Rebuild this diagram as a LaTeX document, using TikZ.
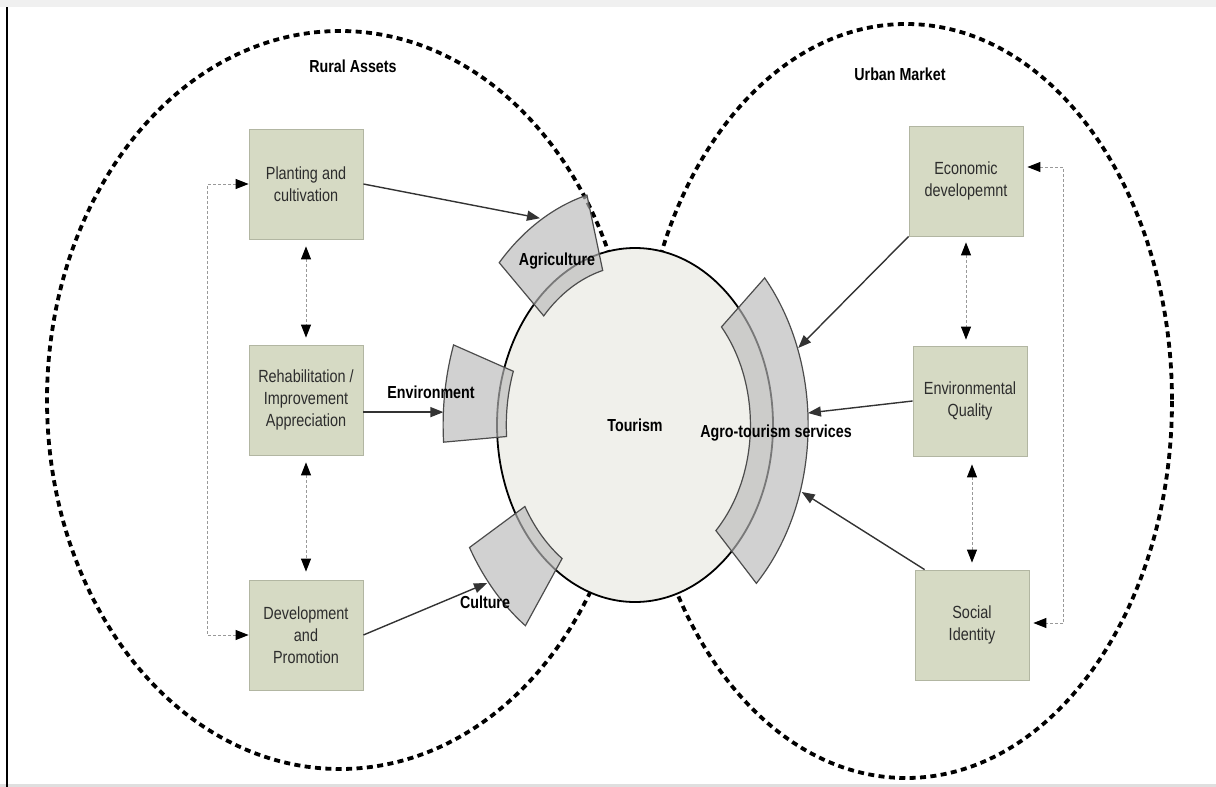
\documentclass[tikz,border=0pt]{standalone}
\usepackage{fontspec}
\setmainfont{Liberation Sans}[FakeStretch=0.82]
\usetikzlibrary{shapes.geometric,arrows.meta}

\definecolor{boxfill}{RGB}{214,218,196}
\definecolor{boxline}{RGB}{178,182,162}
\definecolor{boxtext}{RGB}{45,45,45}
\definecolor{tourfill}{RGB}{240,240,235}
\definecolor{sectorfill}{RGB}{185,185,185}

\tikzset{
  zone/.style={line width=1.9pt, dash pattern=on 3pt off 2.2pt},
  box/.style={draw=boxline, fill=boxfill, text=boxtext, minimum width=57pt, minimum height=55pt,
    align=center, inner sep=2pt, font=\fontsize{8.8}{11}\selectfont},
  tag/.style={font=\fontsize{8.7}{11}\selectfont\bfseries, inner sep=0pt, anchor=base},
  sector/.style={draw=black!70, line width=0.6pt, fill=sectorfill, fill opacity=0.65},
  feed/.style={draw=black!80, line width=0.7pt, -{Triangle[length=6.5pt,width=5pt]}},
  link/.style={draw=black!40, line width=0.5pt, dash pattern=on 1.5pt off 1pt,
    {Triangle[length=6.5pt,width=5pt,black]}-{Triangle[length=6.5pt,width=5pt,black]}},
}

\begin{document}
\begin{tikzpicture}[x=0.5pt,y=-0.5pt]
\useasboundingbox (0,0) rectangle (1216,787);
\fill[gray!12] (0,0) rectangle (1216,7);
\fill[gray!25] (0,784) rectangle (1216,787);
\draw[line width=1pt] (7,7) -- (7,787);

\draw[zone] (340,400) ellipse [x radius=293, y radius=369];
\draw[zone] (906,401) ellipse [x radius=266, y radius=377];

\node[draw, line width=0.9pt, fill=tourfill, ellipse, minimum width=138pt, minimum height=177pt,
  inner sep=0pt, font=\fontsize{8.7}{11}\selectfont\bfseries] (tourism) at (635,425) {Tourism};

\begin{scope}[shift={(635,425)}, xscale=0.78]
\draw[sector] (-137:160) arc[start angle=-137, end angle=-105, radius=160]
  -- (-105:238) arc[start angle=-105, end angle=-137, radius=238] -- cycle;
\draw[sector] (-184:165) arc[start angle=-184, end angle=-161, radius=165]
  -- (-161:246) arc[start angle=-161, end angle=-184, radius=246] -- cycle;
\draw[sector] (125:163) arc[start angle=125, end angle=150, radius=163]
  -- (150:245) arc[start angle=150, end angle=125, radius=245] -- cycle;
\draw[sector] (-41.5:148) arc[start angle=-41.5, end angle=45.5, radius=148]
  -- (45.5:222) arc[start angle=45.5, end angle=-41.5, radius=222] -- cycle;
\coordinate (agri) at (-120.5:240);
\coordinate (env) at (-177:246);
\coordinate (cult) at (140.2:247);
\coordinate (agro1) at (-20.2:223);
\coordinate (agro2) at (-3.1:222);
\coordinate (agro3) at (17.4:224);
\end{scope}

\node[tag] (rural) at (353,72) {Rural Assets};
\node[tag] (urban) at (900,80) {Urban Market};
\node[tag] (agriculture) at (557,265) {Agriculture};
\node[tag] (environment) at (431,398) {Environment};
\node[tag] (culture) at (485,608) {Culture};
\node[tag] (agrotourism) at (776,437) {Agro-tourism services};

\node[box] (plant) at (306,184) {Planting and\\cultivation};
\node[box] (rehab) at (306,400) {Rehabilitation /\\Improvement\\Appreciation};
\node[box] (devel) at (306,635) {Development\\and\\Promotion};
\node[box] (econ) at (966,181) {Economic\\developemnt};
\node[box] (envq) at (970,401) {Environmental\\Quality};
\node[box] (social) at (972,625) {Social\\Identity};

\draw[feed] (plant.east) -- (agri);
\draw[feed] (rehab.east |- env) -- (env);
\draw[feed] (devel.east) -- (cult);
\draw[feed] (econ.south west) -- (agro1);
\draw[feed] (envq.west) -- (agro2);
\draw[feed] ([xshift=5pt]social.north west) -- (agro3);

\draw[link, shorten <=3.5pt, shorten >=3.5pt] (plant.south) -- (rehab.north);
\draw[link, shorten <=3.5pt, shorten >=4pt] (rehab.south) -- (devel.north);
\draw[link, shorten <=3pt, shorten >=3pt] (econ.south) -- (econ.south |- envq.north);
\draw[link, shorten <=4pt, shorten >=3.5pt] (social.north |- envq.south) -- (social.north);
\draw[link] (plant.west) -- ++(-41,0) |- (devel.west);
\draw[link, shorten <=2pt, shorten >=2pt] ([yshift=7pt]econ.east) -- ++(40,0) |- ([yshift=1pt]social.east);
\end{tikzpicture}
\end{document}
